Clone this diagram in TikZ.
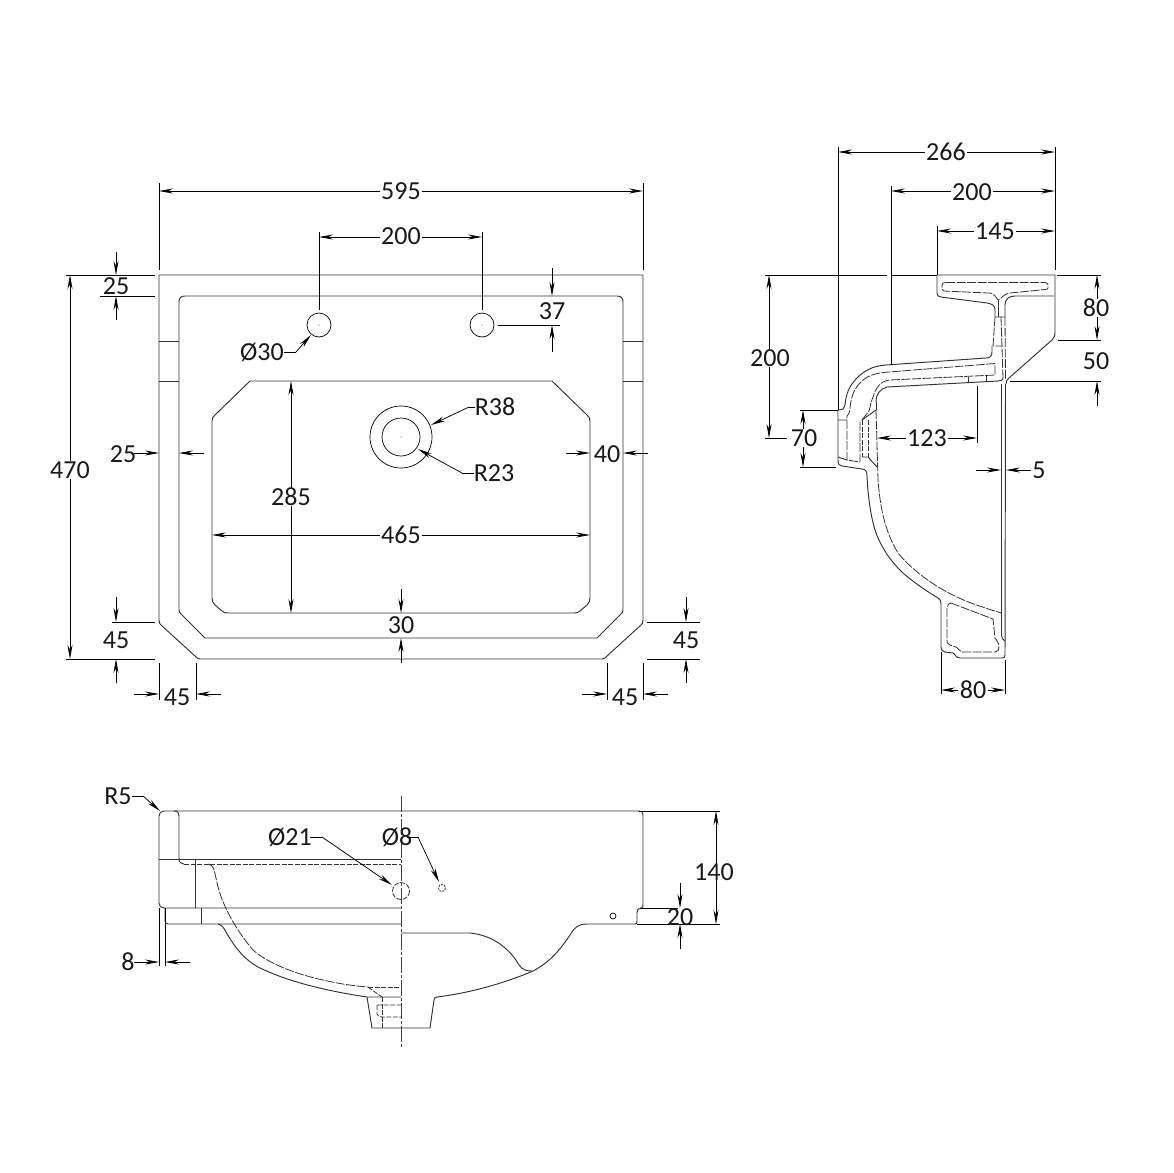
\documentclass[tikz,border=0pt]{standalone}
\usepackage{fontspec}
\setmainfont{Carlito}
\usetikzlibrary{arrows.meta}
\tikzset{
 x=1pt,y=-1pt,
 body/.style={line width=0.95pt,color=black!80,line join=round},
 fine/.style={line width=0.7pt,color=black},
 hid/.style={line width=0.8pt,color=black!80,dash pattern=on 9pt off 1.5pt},
 hids/.style={line width=0.8pt,color=black!80,dash pattern=on 5pt off 1.5pt},
 cent/.style={line width=0.7pt,color=black!75,dash pattern=on 16pt off 2pt on 3pt off 2pt},
 dimm/.style={line width=0.75pt,color=black},
 tip/.style={-{Stealth[length=14pt,width=5pt]},line width=0.75pt,color=black},
 tips/.style={{Stealth[length=14pt,width=5pt]}-{Stealth[length=14pt,width=5pt]},line width=0.75pt,color=black},
 lab/.style={font=\fontsize{26}{26}\selectfont,inner sep=0pt,text=black!90},
 labf/.style={lab,fill=white,inner xsep=1.5pt},
}
\begin{document}
\begin{tikzpicture}
\useasboundingbox[fill=white] (0,0) rectangle (1173,1173);
% ---------- PLAN VIEW ----------
\draw[body] (159,275) -- (643,275) -- (643,620) .. controls (643,623) and (642,624) .. (641,625) -- (607,656) .. controls (605,658) and (604,659) .. (602,659) -- (200,659) .. controls (198,659) and (197,658) .. (195,656) -- (161,625) .. controls (160,624) and (159,623) .. (159,620) -- cycle;
\draw[body] (185,296) -- (617,296) .. controls (621,296) and (623,298) .. (623,302) -- (623,610) .. controls (623,612) and (622,613) .. (621,614) -- (597,638) -- (205,638) -- (181,614) .. controls (180,613) and (179,612) .. (179,610) -- (179,302) .. controls (179,298) and (181,296) .. (185,296) -- cycle;
\draw[body] (250,381) -- (552,381) -- (587,415) .. controls (589,417) and (590,418) .. (590,421) -- (590,598) .. controls (590,601) and (589,603) .. (587,605) -- (580,611) .. controls (578,613) and (576,613) .. (574,613) -- (228,613) .. controls (226,613) and (224,613) .. (222,611) -- (215,605) .. controls (213,603) and (212,601) .. (212,598) -- (212,421) .. controls (212,418) and (213,417) .. (215,415) -- cycle;
\draw[body] (159,341) -- (179,341) (159,381) -- (179,381) (623,341) -- (643,341) (623,381) -- (643,381);
\draw[fine] (319,325) circle[radius=12] (482,325) circle[radius=12] (401,437) circle[radius=31] (401,437) circle[radius=19];
\fill (319,325) circle[radius=0.5] (482,325) circle[radius=0.5] (401,437) circle[radius=0.5];
% plan: dimension lines
\draw[dimm] (159,183) -- (159,270) (643,183) -- (643,270) (319,232) -- (319,310) (482,232) -- (482,310);
\draw[dimm] (66,275) -- (155,275) (66,659) -- (155,659) (100,296) -- (155,296) (112,622) -- (155,622);
\draw[dimm] (498,325) -- (560,325);
\draw[dimm] (647,622) -- (700,622) (647,659) -- (700,659);
\draw[dimm] (159,663) -- (159,700) (196,663) -- (196,700) (607,663) -- (607,700) (643,663) -- (643,700);
\draw[tips] (159,191) -- (643,191);
\node[labf] (d595) at (401,191) {595};
\draw[tips] (319,237) -- (482,237);
\node[labf] (d200a) at (401,236) {200};
\draw[tip] (116,252) -- (116,275);
\draw[tip] (116,320) -- (116,296);
\node[lab] (d25a) at (116,286) {25};
\draw[tip] (552,268) -- (552,296);
\draw[tip] (552,352) -- (552,325);
\node[lab] (d37) at (552,311) {37};
\draw[tips] (70,275) -- (70,659);
\node[labf] (d470) at (70,470) {470};
\node[lab] (d30c) at (262,352) {Ø30};
\draw[dimm] (284,352) -- (296,352);
\draw[tip] (296,352) -- (311,335);
\node[lab] (dr38) at (495,407) {R38};
\draw[dimm] (475,407) -- (469,407);
\draw[tip] (469,407) -- (431,425);
\node[lab] (dr23) at (494,473) {R23};
\draw[dimm] (474,473) -- (462,473);
\draw[tip] (462,473) -- (418,449);
\draw[tips] (291,381) -- (291,613);
\node[labf] (d285) at (291,497) {285};
\draw[tips] (212,535) -- (590,535);
\node[labf] (d465) at (401,535) {465};
\draw[tip] (134,453) -- (159,453);
\draw[tip] (204,453) -- (179,453);
\node[lab] (d25b) at (123,454) {25};
\draw[tip] (566,453) -- (590,453);
\draw[tip] (648,453) -- (623,453);
\node[lab] (d40) at (607,454) {40};
\draw[tip] (401,589) -- (401,613);
\draw[tip] (401,663) -- (401,638);
\node[lab] (d30) at (401,625) {30};
\draw[tip] (116,597) -- (116,622);
\draw[tip] (116,683) -- (116,659);
\node[lab] (d45a) at (116,640) {45};
\draw[tip] (134,694) -- (159,694);
\draw[tip] (221,694) -- (196,694);
\node[lab] (d45b) at (177,697) {45};
\draw[tip] (686,597) -- (686,622);
\draw[tip] (686,683) -- (686,659);
\node[lab] (d45c) at (686,640) {45};
\draw[tip] (582,694) -- (607,694);
\draw[tip] (668,694) -- (643,694);
\node[lab] (d45d) at (625,697) {45};
% ---------- SIDE VIEW ----------
\draw[body] (937,275) -- (1055,275) -- (1055,332) .. controls (1055,336) and (1054,338) .. (1052,340) -- (1009,378) .. controls (1007,380) and (1006,381) .. (1006,384);
\draw[body] (937,275) -- (937,293) .. controls (937,296) and (938,296) .. (941,297) -- (987,303) .. controls (993,304) and (995,306) .. (995,310) -- (995,317) -- (1005,317);
\draw[body] (1054,296) -- (1015,296) .. controls (1009,296) and (1005,299) .. (1005,305) -- (1005,317);
\draw[hid] (995,317) -- (993,346) -- (1003,346);
\draw[body] (992,346) -- (992,352) .. controls (992,356) and (990,358) .. (986,358) -- (886,365) .. controls (872,366) and (864,371) .. (857,378) .. controls (849,386) and (846,394) .. (845,405) .. controls (845,408) and (843,410) .. (838,410);
\draw[hid] (1005,317) -- (1005.5,380) (1001,317) -- (1003,378);
\draw[body] (838,410) -- (838,460) .. controls (838,464) and (839,466) .. (842,466) -- (862,469) .. controls (866,469) and (867,472) .. (867,476) .. controls (868,495) and (870,513) .. (875,530) .. controls (880,545) and (889,560) .. (904,574) .. controls (916,584) and (928,592) .. (938,598) .. controls (941,600) and (941,602) .. (941,606) -- (941,647) .. controls (941,650) and (942,651) .. (945,652) -- (953,653) .. controls (955,654) and (956,658) .. (960,658) -- (1002,658) .. controls (1004,658) and (1005,657) .. (1005,655) -- (1005.5,384);
\draw[body] (1001.5,384) -- (1001.5,635) .. controls (1001.5,638) and (1003,640) .. (1005,641);
\draw[body] (887,387) -- (998,381) .. controls (1001,381) and (1003,380) .. (1003,378);
\draw[body] (887,387) .. controls (880,389) and (876,394) .. (876,402);
\draw[body] (876,402) -- (876,410);
\draw[body] (862,420) -- (876,410) (838,420) -- (847,420) (838,457) -- (847,460);
\draw[body] (862,457) -- (868,457) -- (877,467);
\draw[hid] (876,410) -- (878,480) .. controls (880,505) and (884,530) .. (898,553) .. controls (910,568) and (930,583) .. (947,592) .. controls (965,602) and (985,608) .. (1001.5,613);
% upper cavity
\draw[hid] (946,282.5) -- (1045,282.5) .. controls (1048,282.5) and (1048,284) .. (1048,286) -- (1048,288) .. controls (1048,289) and (1047,289.5) .. (1045,289.5) -- (1010,293) .. controls (1005,294) and (1003,296) .. (1001,298) -- (998,300) -- (995,296) .. controls (994,294) and (992,293) .. (988,293) -- (944,291) .. controls (942,291) and (942,289) .. (942,286) .. controls (942,283) and (943,282.5) .. (946,282.5);
\draw[body] (998,300) -- (998,317);
% middle channel
\draw[hid] (995,363.5) -- (889,372) .. controls (874,373) and (866,376) .. (859,384) .. controls (853,391) and (851,398) .. (850,408) .. controls (850,412) and (848,415) .. (847,416) -- (847,460) -- (860,462) -- (860,420) (862,420) -- (869,411) .. controls (870,408) and (871,402) .. (873,397) .. controls (876,388) and (880,381) .. (890,380) -- (995,375) -- (995,363.5);
\draw[hids] (868,420) -- (868,457);
\draw[hids] (862,420) -- (862,457);
\draw[body] (968,377) -- (968,382) (986,376) -- (986,381);
% lower cavity
\draw[hid] (951,603) -- (993,619) -- (995,638) .. controls (996,641) and (999,642) .. (999,645) .. controls (999,650) and (998,652) .. (995,652) -- (963,652) .. controls (960,652) and (958,648) .. (956,647) -- (950,645) .. controls (947,644) and (947,642) .. (947,640) -- (947,608) .. controls (947,605) and (949,603) .. (951,603);
% side: dimensions
\draw[dimm] (765,275) -- (887,275) (891,275) -- (937,275) (1057,275) -- (1101,275);
\draw[dimm] (765,438) -- (787,438);
\draw[dimm] (838,147) -- (838,410) (891,186) -- (891,365) (937,226) -- (937,275) (1055,147) -- (1055,270);
\draw[dimm] (800,410) -- (838,410) (800,467) -- (836,467);
\draw[dimm] (977,386) -- (977,443);
\draw[dimm] (1058,340) -- (1101,340) (1010,381) -- (1101,381);
\draw[dimm] (941,652) -- (941,694) (1005,660) -- (1005,694);
\draw[tips] (838,152) -- (1055,152);
\node[labf] (s266) at (946,152) {266};
\draw[tips] (891,191) -- (1055,191);
\node[labf] (s200) at (972,192) {200};
\draw[tips] (937,231) -- (1055,231);
\node[labf] (s145) at (995,231) {145};
\draw[tips] (769,275) -- (769,438);
\node[labf] (s200b) at (770,358) {200};
\draw[tips] (803,410) -- (803,467);
\node[labf] (s70) at (804,438) {70};
\draw[tips] (877,438) -- (977,438);
\node[labf] (s123) at (927,438) {123};
\draw[tip] (976,470) -- (1001,470);
\draw[tip] (1031,470) -- (1006,470);
\node[lab] (s5) at (1039,470) {5};
\draw[tips] (1097,275) -- (1097,340);
\node[labf] (s80) at (1096,308) {80};
\draw[tip] (1097,406) -- (1097,381);
\node[lab] (s50) at (1096,361) {50};
\draw[tips] (941,690) -- (1005,690);
\node[labf] (s80b) at (973,690) {80};
% ---------- FRONT VIEW ----------
\draw[cent] (401,796) -- (401,1047);
\draw[body] (401,811) -- (164,811) .. controls (161,811) and (159,813) .. (159,816) -- (159,903) .. controls (159,906) and (161,908) .. (164,908) -- (401,908);
\draw[body] (159,859) -- (401,859);
\draw[body] (174,811) .. controls (178,811) and (179,813) .. (179,816) -- (179,858) .. controls (179,862) and (180,863) .. (184,864);
\draw[hids] (184,864) -- (401,864);
\draw[body] (195,859) -- (195,908) (201.5,908) -- (201.5,924);
\draw[body] (165,908) -- (165,920) .. controls (165,923) and (166,924) .. (168,924) -- (401,924);
\draw[hid] (208,864) .. controls (214,865) and (214,870) .. (216,878) .. controls (220,900) and (232,925) .. (253,950) .. controls (270,965) and (300,975) .. (323,980) .. controls (340,984) and (355,986) .. (368,987);
\draw[hids] (368,987) -- (401,987);
\draw[hids] (368,987) -- (382,997);
\draw[body] (218,924) .. controls (222,925) and (224,928) .. (226,932) .. controls (234,946) and (244,960) .. (260,968) .. controls (285,980) and (320,990) .. (367,997) -- (401,997);
\draw[body] (367,997) -- (372,1028) -- (430,1028) -- (434,1000) .. controls (434,998) and (435,997) .. (437,997) .. controls (470,993) and (505,983) .. (533,971) .. controls (550,962) and (560,950) .. (570,935) .. controls (575,927) and (578,924) .. (587,924) -- (635,924) .. controls (637,924) and (637,923) .. (637,921) -- (637,913) .. controls (637,910) and (638,908) .. (641,908) .. controls (643,908) and (643,906) .. (643,904) -- (643,815) .. controls (643,812) and (642,811) .. (639,811) -- (401,811);
\draw[hids] (382,997) -- (382,1028);
\draw[hids] (377,1005) -- (401,1005) (377,1005) -- (377,1014) .. controls (378,1016) and (379,1017) .. (382,1017) -- (401,1017);
\draw[body] (401,933) -- (470,933) .. controls (490,935) and (505,945) .. (516,960) .. controls (520,967) and (522,971) .. (532,971);
\draw[hids] (401,891) circle[radius=8.5];
\draw[hids,dash pattern=on 2pt off 1pt] (442,888) circle[radius=3.5];
\draw[fine] (613,916) circle[radius=3];
% front: dimensions
\draw[dimm] (639,811) -- (720,811) (637,924) -- (720,924) (640,908) -- (678,908);
\draw[dimm] (159,908) -- (159,966) (165,908) -- (165,966);
\draw[tip] (134,962) -- (159,962);
\draw[tip] (190,962) -- (165,962);
\node[lab] (f8) at (128,962) {8};
\node[lab] (fr5) at (118,796) {R5};
\draw[dimm] (132,796) -- (143,796);
\draw[tip] (143,796) -- (160,811);
\node[lab] (f21) at (290,837) {Ø21};
\draw[dimm] (310,837) -- (322,837);
\draw[tip] (322,837) -- (392,885);
\node[lab] (f8b) at (397,837) {Ø8};
\draw[dimm] (407,837) -- (418,837);
\draw[tip] (418,837) -- (439,882);
\draw[tips] (716,811) -- (716,924);
\node[lab] (f140) at (714,872) {140};
\draw[tip] (680,883) -- (680,908);
\draw[tip] (680,949) -- (680,924);
\node[lab] (f20) at (680,917) {20};
\end{tikzpicture}
\end{document}
